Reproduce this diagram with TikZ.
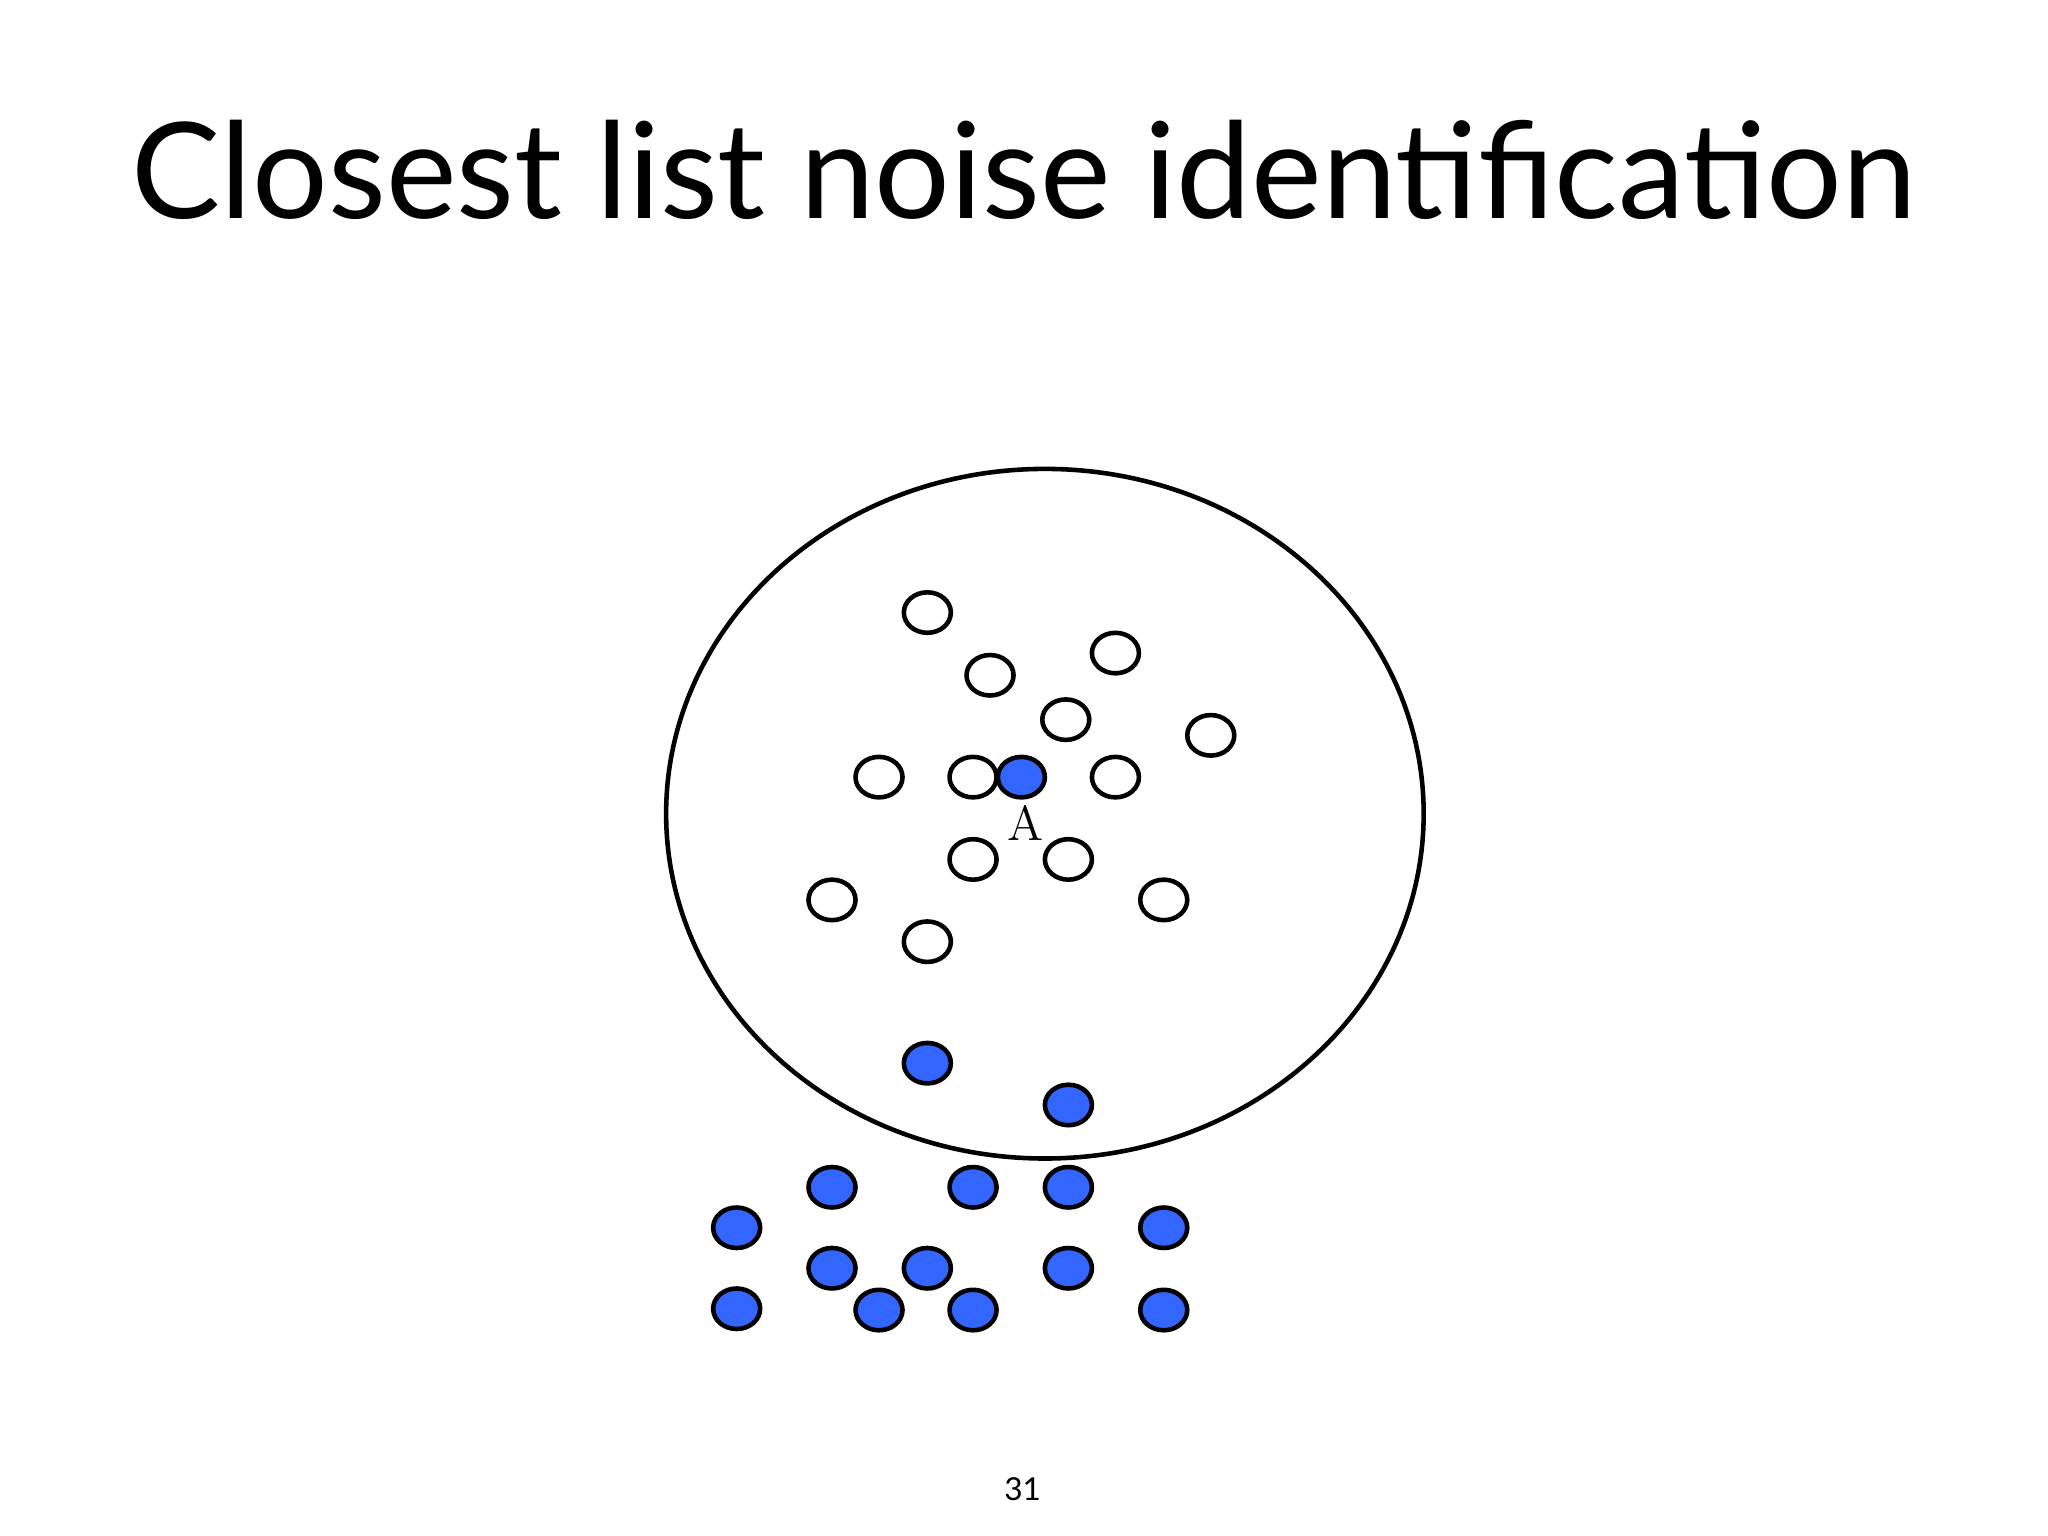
\documentclass[tikz,border=0pt]{standalone}
\usepackage{fontspec}
\setsansfont{Lato}
\begin{document}
\begin{tikzpicture}[x=0.01306cm,y=-0.01306cm,
  pt/.style={draw=black,line width=1.3pt},
  wpt/.style={pt,fill=white},
  bpt/.style={pt,fill=ptblue}]
\definecolor{ptblue}{HTML}{3366FF}
\useasboundingbox (0,0) rectangle (1568,1176);
\node[font=\sffamily\fontsize{38}{44}\selectfont] (title) at (784,130) {Closest list noise identification};
\draw[line width=1.3pt] (800,623) ellipse [x radius=290, y radius=264];
\foreach \x/\y [count=\i] in {710/469,758/517,854/500,816/551,927/563,673/595,745/595,854/595,745/658,818/658,637/689,891/689,710/721}
  \draw[wpt] (\x,\y) ellipse [x radius=18, y radius=15.5];
\foreach \x/\y [count=\i] in {782/595,710/814,818/846,637/909,745/909,818/909,564/940,891/940,637/971,710/971,818/971,564/1002,673/1003,745/1003,891/1003}
  \draw[bpt] (\x,\y) ellipse [x radius=18, y radius=15.5];
\node[font=\fontsize{14}{16}\selectfont] (A) at (785,630) {A};
\node[font=\sffamily\fontsize{9}{10}\selectfont] (num) at (783,1140) {31};
\end{tikzpicture}
\end{document}
